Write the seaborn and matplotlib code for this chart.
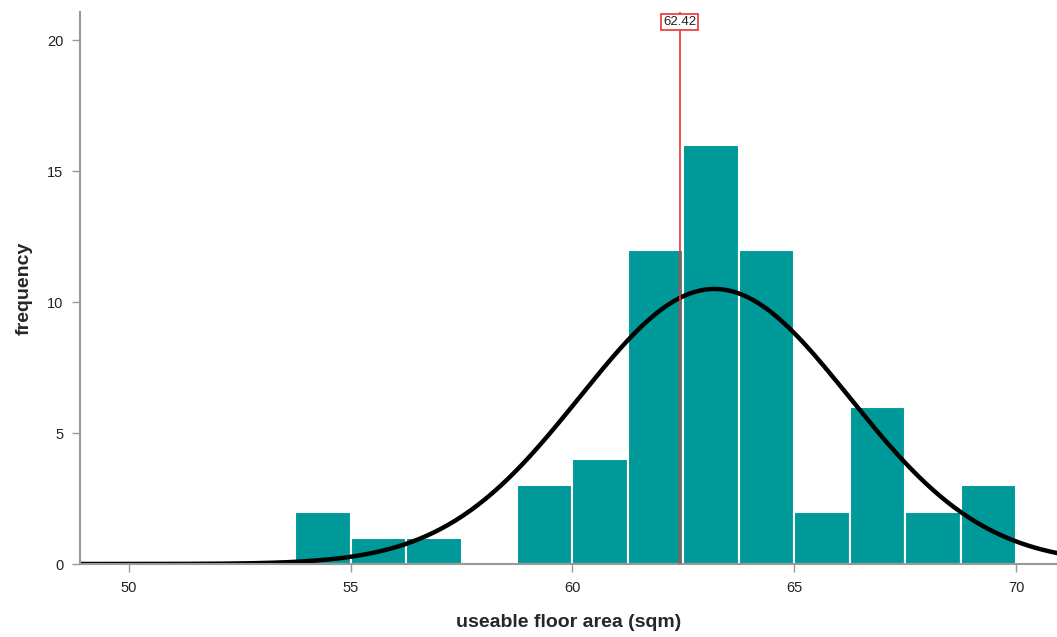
import numpy as np
import pandas as pd
import matplotlib
matplotlib.use("Agg")
import matplotlib.pyplot as plt
import seaborn as sns

# Histogram bins (sqm) and counts per bin
bin_edges = [53.75, 55.0, 56.25, 57.5, 58.75, 60.0, 61.25, 62.5, 63.75,
             65.0, 66.25, 67.5, 68.75, 70.0]
bin_counts = [2, 1, 1, 0, 3, 4, 12, 16, 12, 2, 6, 2, 3]

# Normal curve overlay parameters
curve_mean = 63.2
curve_sd = 3.04

# Reference line value
ref_value = 62.42

x_ticks = [50, 55, 60, 65, 70]
y_ticks = [0, 5, 10, 15, 20]

sns.set_theme(style="white")
plt.rcParams["font.family"] = ["Liberation Sans", "DejaVu Sans"]

fig = plt.figure(figsize=(10.57, 6.37), dpi=100)
ax = fig.add_axes([80 / 1057, 73 / 637, 1 - 80 / 1057, (564 - 12) / 637])

edges = np.array(bin_edges)
centers = (edges[:-1] + edges[1:]) / 2
df = pd.DataFrame({"area": centers, "count": bin_counts})
sns.histplot(data=df, x="area", weights="count", bins=list(bin_edges), ax=ax,
             color="#009999", alpha=1.0, edgecolor="white", linewidth=1.5)

n_total = sum(bin_counts)
width = edges[1] - edges[0]
xs = np.linspace(48.9, 71, 400)
ys = n_total * width / (curve_sd * np.sqrt(2 * np.pi)) * np.exp(-0.5 * ((xs - curve_mean) / curve_sd) ** 2)
sns.lineplot(x=xs, y=ys, ax=ax, color="black", linewidth=3.2)

ax.axvline(ref_value, color="#ee3333", linewidth=1.2, zorder=5)
ax.text(ref_value, 20.7, f"{ref_value:.2f}", ha="center", va="center", fontsize=9.5,
        color="#222222", zorder=6,
        bbox=dict(boxstyle="square,pad=0.15", facecolor="white", edgecolor="#ee3333", linewidth=1.2))

ax.set_xlim(48.9, 70.92)
ax.set_ylim(0, 21.07)
ax.set_xticks(x_ticks)
ax.set_yticks(y_ticks)
ax.tick_params(axis="both", direction="out", length=6, width=1, color="#999999",
               labelsize=10.5, labelcolor="#222222", pad=6,
               bottom=True, left=True)
for side in ["top", "right"]:
    ax.spines[side].set_visible(False)
for side in ["left", "bottom"]:
    ax.spines[side].set_color("#999999")
    ax.spines[side].set_linewidth(1.5)

ax.set_xlabel("useable floor area (sqm)", fontsize=14, fontweight="bold", labelpad=14)
ax.set_ylabel("frequency", fontsize=14, fontweight="bold", labelpad=10)

fig.savefig("out.png", dpi=100)
